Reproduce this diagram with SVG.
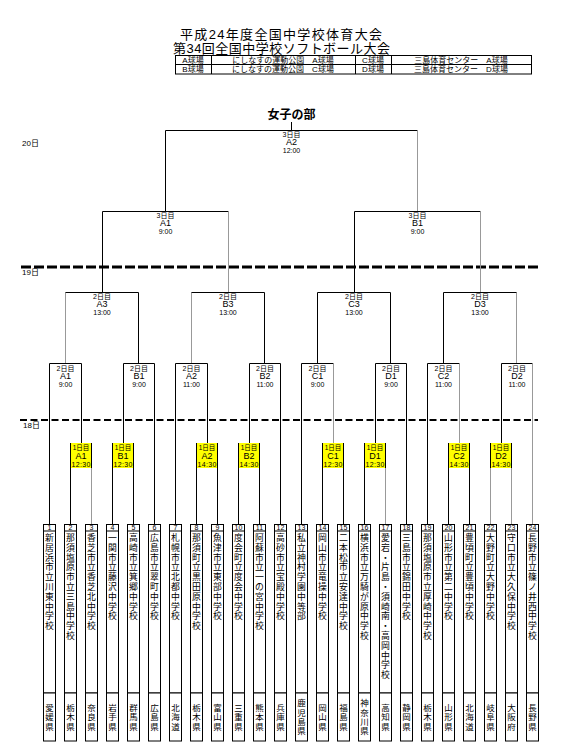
<svg xmlns="http://www.w3.org/2000/svg" width="570" height="755" viewBox="0 0 570 755">
<style>
text{font-family:"Liberation Sans","Noto Sans CJK JP",sans-serif;fill:#000}
.c{text-anchor:middle}
.ln{stroke:#000;stroke-width:1;fill:none}
.lg{stroke:#999;stroke-width:1;fill:none}
.bx{fill:#fff;stroke:#000;stroke-width:1}
.yb{fill:#ffff00;stroke:none}
.s6{font-size:6.5px}
.s7{font-size:7px}
.s8{font-size:8px}
.s9{font-size:9px}
.nm{font-size:8.8px;text-anchor:middle}
.pf{font-size:8.5px;text-anchor:middle}
</style>
<rect width="570" height="755" fill="#fff"/>

<g id="header">
<text x="281" y="38.5" class="c" style="font-size:13px" textLength="202">平成24年度全国中学校体育大会</text>
<text x="281.5" y="52.5" class="c" style="font-size:13px" textLength="217">第34回全国中学校ソフトボール大会</text>
<rect x="175.5" y="55.5" width="356" height="18.5" fill="none" stroke="#000" stroke-width="1"/>
<path class="ln" d="M175.5 64.5H531.5M211.5 55.5V74M355.5 55.5V74M391.5 55.5V74"/>
<text x="193" y="62.5" class="c s8">A球場</text>
<text x="283" y="62.5" class="c s8">にしなすの運動公園　A球場</text>
<text x="373" y="62.5" class="c s8">C球場</text>
<text x="461" y="62.5" class="c s8">三島体育センター　A球場</text>
<text x="193" y="72" class="c s8">B球場</text>
<text x="283" y="72" class="c s8">にしなすの運動公園　C球場</text>
<text x="373" y="72" class="c s8">D球場</text>
<text x="461" y="72" class="c s8">三島体育センター　D球場</text>
</g>

<g id="dates">
<text x="22" y="146" class="s8">20日</text>
<text x="22" y="275" class="s8">19日</text>
<text x="23" y="427.5" class="s8">18日</text>
<line x1="21" y1="267" x2="541" y2="267" stroke="#000" stroke-width="3" stroke-dasharray="10 3"/>
<line x1="20" y1="420" x2="538" y2="420" stroke="#000" stroke-width="2" stroke-dasharray="7 3.5"/>
</g>

<g id="connectors">
<path class="ln" d="M291.5 122V130.5M165.5 211.5V130.5H417.5"/>
<path class="lg" d="M417.5 130.5V211.5"/>
<path class="ln" d="M102.5 292.5V211.5H228.5M354.5 292.5V211.5H480.5"/>
<path class="lg" d="M228.5 211.5V292.5M480.5 211.5V292.5"/>
<path class="lg" d="M65.5 363.5V292.5M191.5 363.5V292.5M516.5 292.5V363.5"/>
<path class="ln" d="M65.5 292.5H138.5V363.5M191.5 292.5H264.5V363.5M317.5 363.5V292.5H390.5V363.5M443.5 363.5V292.5H516.5"/>
<path class="ln" d="M49.5 524.5V363.5H81.5V443M123.5 443V363.5H154.5V524.5M175.5 524.5V363.5H207.5V443M249.5 443V363.5H280.5V524.5M301.5 524.5V363.5H333.5M375.5 443V363.5H406.5V524.5M427.5 524.5V363.5H459.5M501.5 443V363.5H532.5"/>
<path class="lg" d="M333.5 363.5V443M459.5 363.5V443M532.5 363.5V524.5"/>
<path class="ln" d="M70.5 443V524.5M112.5 443V524.5M133.5 443V524.5M196.5 443V524.5M217.5 443V524.5M238.5 443V524.5M259.5 443V524.5M322.5 443V524.5M343.5 443V524.5M364.5 443V524.5M448.5 443V524.5M469.5 443V524.5"/>
<path class="lg" d="M91.5 468V524.5M385.5 468V524.5M490.5 468V524.5M511.5 468V524.5"/>
<path class="ln" d="M91.5 443V468M385.5 443V468M490.5 443V468M511.5 443V468"/>
</g>

<g id="final">
<text x="291.5" y="119" class="c" style="font-size:12px;font-weight:bold">女子の部</text>
<text x="291.5" y="137.3" class="c s7">3日目</text>
<text x="291.5" y="145.3" class="c s9">A2</text>
<text x="291.5" y="153.2" class="c s7">12:00</text>
</g>
<g id="r3-A1"><text x="165.5" y="218" class="c s7">3日目</text><text x="165.5" y="226" class="c s9">A1</text><text x="165.5" y="233.5" class="c s7">9:00</text></g>
<g id="r3-B1"><text x="417.5" y="218" class="c s7">3日目</text><text x="417.5" y="226" class="c s9">B1</text><text x="417.5" y="233.5" class="c s7">9:00</text></g>

<g id="r2-A3"><text x="102" y="298.5" class="c s7">2日目</text><text x="102" y="306.7" class="c s9">A3</text><text x="102" y="315" class="c s7">13:00</text></g>
<g id="r2-B3"><text x="228" y="298.5" class="c s7">2日目</text><text x="228" y="306.7" class="c s9">B3</text><text x="228" y="315" class="c s7">13:00</text></g>
<g id="r2-C3"><text x="354" y="298.5" class="c s7">2日目</text><text x="354" y="306.7" class="c s9">C3</text><text x="354" y="315" class="c s7">13:00</text></g>
<g id="r2-D3"><text x="480" y="298.5" class="c s7">2日目</text><text x="480" y="306.7" class="c s9">D3</text><text x="480" y="315" class="c s7">13:00</text></g>

<g id="r2-A1"><text x="65.5" y="370.5" class="c s7">2日目</text><text x="65.5" y="379.3" class="c s9">A1</text><text x="65.5" y="386.7" class="c s7">9:00</text></g>
<g id="r2-B1"><text x="139" y="370.5" class="c s7">2日目</text><text x="139" y="379.3" class="c s9">B1</text><text x="139" y="386.7" class="c s7">9:00</text></g>
<g id="r2-A2"><text x="191.5" y="370.5" class="c s7">2日目</text><text x="191.5" y="379.3" class="c s9">A2</text><text x="191.5" y="386.7" class="c s7">11:00</text></g>
<g id="r2-B2"><text x="265" y="370.5" class="c s7">2日目</text><text x="265" y="379.3" class="c s9">B2</text><text x="265" y="386.7" class="c s7">11:00</text></g>
<g id="r2-C1"><text x="317.5" y="370.5" class="c s7">2日目</text><text x="317.5" y="379.3" class="c s9">C1</text><text x="317.5" y="386.7" class="c s7">9:00</text></g>
<g id="r2-D1"><text x="391" y="370.5" class="c s7">2日目</text><text x="391" y="379.3" class="c s9">D1</text><text x="391" y="386.7" class="c s7">9:00</text></g>
<g id="r2-C2"><text x="443.5" y="370.5" class="c s7">2日目</text><text x="443.5" y="379.3" class="c s9">C2</text><text x="443.5" y="386.7" class="c s7">11:00</text></g>
<g id="r2-D2"><text x="517" y="370.5" class="c s7">2日目</text><text x="517" y="379.3" class="c s9">D2</text><text x="517" y="386.7" class="c s7">11:00</text></g>

<g id="r1-A1"><rect class="yb" x="71" y="443" width="20" height="25"/><text x="81" y="450" class="c s6">1日目</text><text x="81" y="458.7" class="c s9">A1</text><text x="81" y="466.5" class="c s7" textLength="19">12:30</text></g>
<g id="r1-B1"><rect class="yb" x="113" y="443" width="20" height="25"/><text x="123" y="450" class="c s6">1日目</text><text x="123" y="458.7" class="c s9">B1</text><text x="123" y="466.5" class="c s7" textLength="19">12:30</text></g>
<g id="r1-A2"><rect class="yb" x="197" y="443" width="20" height="25"/><text x="207" y="450" class="c s6">1日目</text><text x="207" y="458.7" class="c s9">A2</text><text x="207" y="466.5" class="c s7" textLength="19">14:30</text></g>
<g id="r1-B2"><rect class="yb" x="239" y="443" width="20" height="25"/><text x="249" y="450" class="c s6">1日目</text><text x="249" y="458.7" class="c s9">B2</text><text x="249" y="466.5" class="c s7" textLength="19">14:30</text></g>
<g id="r1-C1"><rect class="yb" x="323" y="443" width="20" height="25"/><text x="333" y="450" class="c s6">1日目</text><text x="333" y="458.7" class="c s9">C1</text><text x="333" y="466.5" class="c s7" textLength="19">12:30</text></g>
<g id="r1-D1"><rect class="yb" x="365" y="443" width="20" height="25"/><text x="375" y="450" class="c s6">1日目</text><text x="375" y="458.7" class="c s9">D1</text><text x="375" y="466.5" class="c s7" textLength="19">12:30</text></g>
<g id="r1-C2"><rect class="yb" x="449" y="443" width="20" height="25"/><text x="459" y="450" class="c s6">1日目</text><text x="459" y="458.7" class="c s9">C2</text><text x="459" y="466.5" class="c s7" textLength="19">14:30</text></g>
<g id="r1-D2"><rect class="yb" x="491" y="443" width="20" height="25"/><text x="501" y="450" class="c s6">1日目</text><text x="501" y="458.7" class="c s9">D2</text><text x="501" y="466.5" class="c s7" textLength="19">14:30</text></g>

<g id="team-1"><rect class="bx" x="43.5" y="524.5" width="12" height="168.5"/><line class="ln" x1="43.5" y1="531" x2="55.5" y2="531"/><text x="49.5" y="530.3" class="c s7">1</text>
<text class="nm" x="49.5 49.5 49.5 49.5 49.5 49.5 49.5 49.5 49.5 49.5" y="541 550.8 560.6 570.4 580.2 590 599.8 609.6 619.4 629.2">新居浜市立川東中学校</text>
<rect class="bx" x="43.5" y="693" width="12" height="48"/><text class="pf" x="49.5 49.5 49.5" y="710.9 720.2 729.5">愛媛県</text></g>

<g id="team-2"><rect class="bx" x="64.5" y="524.5" width="12" height="168.5"/><line class="ln" x1="64.5" y1="531" x2="76.5" y2="531"/><text x="70.5" y="530.3" class="c s7">2</text>
<text class="nm" x="70.5 70.5 70.5 70.5 70.5 70.5 70.5 70.5 70.5 70.5 70.5" y="541 550.8 560.6 570.4 580.2 590 599.8 609.6 619.4 629.2 639">那須塩原市立三島中学校</text>
<rect class="bx" x="64.5" y="693" width="12" height="48"/><text class="pf" x="70.5 70.5 70.5" y="710.9 720.2 729.5">栃木県</text></g>

<g id="team-3"><rect class="bx" x="85.5" y="524.5" width="12" height="168.5"/><line class="ln" x1="85.5" y1="531" x2="97.5" y2="531"/><text x="91.5" y="530.3" class="c s7">3</text>
<text class="nm" x="91.5 91.5 91.5 91.5 91.5 91.5 91.5 91.5 91.5 91.5" y="541 550.8 560.6 570.4 580.2 590 599.8 609.6 619.4 629.2">香芝市立香芝北中学校</text>
<rect class="bx" x="85.5" y="693" width="12" height="48"/><text class="pf" x="91.5 91.5 91.5" y="710.9 720.2 729.5">奈良県</text></g>

<g id="team-4"><rect class="bx" x="106.5" y="524.5" width="12" height="168.5"/><line class="ln" x1="106.5" y1="531" x2="118.5" y2="531"/><text x="112.5" y="530.3" class="c s7">4</text>
<text class="nm" x="112.5 112.5 112.5 112.5 112.5 112.5 112.5 112.5 112.5" y="541 550.8 560.6 570.4 580.2 590 599.8 609.6 619.4">一関市立藤沢中学校</text>
<rect class="bx" x="106.5" y="693" width="12" height="48"/><text class="pf" x="112.5 112.5 112.5" y="710.9 720.2 729.5">岩手県</text></g>

<g id="team-5"><rect class="bx" x="127.5" y="524.5" width="12" height="168.5"/><line class="ln" x1="127.5" y1="531" x2="139.5" y2="531"/><text x="133.5" y="530.3" class="c s7">5</text>
<text class="nm" x="133.5 133.5 133.5 133.5 133.5 133.5 133.5 133.5 133.5" y="541 550.8 560.6 570.4 580.2 590 599.8 609.6 619.4">高崎市立箕郷中学校</text>
<rect class="bx" x="127.5" y="693" width="12" height="48"/><text class="pf" x="133.5 133.5 133.5" y="710.9 720.2 729.5">群馬県</text></g>

<g id="team-6"><rect class="bx" x="148.5" y="524.5" width="12" height="168.5"/><line class="ln" x1="148.5" y1="531" x2="160.5" y2="531"/><text x="154.5" y="530.3" class="c s7">6</text>
<text class="nm" x="154.5 154.5 154.5 154.5 154.5 154.5 154.5 154.5 154.5" y="541 550.8 560.6 570.4 580.2 590 599.8 609.6 619.4">広島市立翠町中学校</text>
<rect class="bx" x="148.5" y="693" width="12" height="48"/><text class="pf" x="154.5 154.5 154.5" y="710.9 720.2 729.5">広島県</text></g>

<g id="team-7"><rect class="bx" x="169.5" y="524.5" width="12" height="168.5"/><line class="ln" x1="169.5" y1="531" x2="181.5" y2="531"/><text x="175.5" y="530.3" class="c s7">7</text>
<text class="nm" x="175.5 175.5 175.5 175.5 175.5 175.5 175.5 175.5 175.5" y="541 550.8 560.6 570.4 580.2 590 599.8 609.6 619.4">札幌市立北都中学校</text>
<rect class="bx" x="169.5" y="693" width="12" height="48"/><text class="pf" x="175.5 175.5 175.5" y="710.9 720.2 729.5">北海道</text></g>

<g id="team-8"><rect class="bx" x="190.5" y="524.5" width="12" height="168.5"/><line class="ln" x1="190.5" y1="531" x2="202.5" y2="531"/><text x="196.5" y="530.3" class="c s7">8</text>
<text class="nm" x="196.5 196.5 196.5 196.5 196.5 196.5 196.5 196.5 196.5 196.5" y="541 550.8 560.6 570.4 580.2 590 599.8 609.6 619.4 629.2">那須町立黒田原中学校</text>
<rect class="bx" x="190.5" y="693" width="12" height="48"/><text class="pf" x="196.5 196.5 196.5" y="710.9 720.2 729.5">栃木県</text></g>

<g id="team-9"><rect class="bx" x="211.5" y="524.5" width="12" height="168.5"/><line class="ln" x1="211.5" y1="531" x2="223.5" y2="531"/><text x="217.5" y="530.3" class="c s7">9</text>
<text class="nm" x="217.5 217.5 217.5 217.5 217.5 217.5 217.5 217.5 217.5" y="541 550.8 560.6 570.4 580.2 590 599.8 609.6 619.4">魚津市立東部中学校</text>
<rect class="bx" x="211.5" y="693" width="12" height="48"/><text class="pf" x="217.5 217.5 217.5" y="710.9 720.2 729.5">富山県</text></g>

<g id="team-10"><rect class="bx" x="232.5" y="524.5" width="12" height="168.5"/><line class="ln" x1="232.5" y1="531" x2="244.5" y2="531"/><text x="238.5" y="530.3" class="c s7">10</text>
<text class="nm" x="238.5 238.5 238.5 238.5 238.5 238.5 238.5 238.5 238.5" y="541 550.8 560.6 570.4 580.2 590 599.8 609.6 619.4">度会町立度会中学校</text>
<rect class="bx" x="232.5" y="693" width="12" height="48"/><text class="pf" x="238.5 238.5 238.5" y="710.9 720.2 729.5">三重県</text></g>

<g id="team-11"><rect class="bx" x="253.5" y="524.5" width="12" height="168.5"/><line class="ln" x1="253.5" y1="531" x2="265.5" y2="531"/><text x="259.5" y="530.3" class="c s7">11</text>
<text class="nm" x="259.5 259.5 259.5 259.5 259.5 259.5 259.5 259.5 259.5 259.5" y="541 550.8 560.6 570.4 580.2 590 599.8 609.6 619.4 629.2">阿蘇市立一の宮中学校</text>
<rect class="bx" x="253.5" y="693" width="12" height="48"/><text class="pf" x="259.5 259.5 259.5" y="710.9 720.2 729.5">熊本県</text></g>

<g id="team-12"><rect class="bx" x="274.5" y="524.5" width="12" height="168.5"/><line class="ln" x1="274.5" y1="531" x2="286.5" y2="531"/><text x="280.5" y="530.3" class="c s7">12</text>
<text class="nm" x="280.5 280.5 280.5 280.5 280.5 280.5 280.5 280.5 280.5" y="541 550.8 560.6 570.4 580.2 590 599.8 609.6 619.4">高砂市立宝殿中学校</text>
<rect class="bx" x="274.5" y="693" width="12" height="48"/><text class="pf" x="280.5 280.5 280.5" y="710.9 720.2 729.5">兵庫県</text></g>

<g id="team-13"><rect class="bx" x="295.5" y="524.5" width="12" height="168.5"/><line class="ln" x1="295.5" y1="531" x2="307.5" y2="531"/><text x="301.5" y="530.3" class="c s7">13</text>
<text class="nm" x="301.5 301.5 301.5 301.5 301.5 301.5 301.5 301.5 301.5" y="541 550.8 560.6 570.4 580.2 590 599.8 609.6 619.4">私立神村学園中等部</text>
<rect class="bx" x="295.5" y="693" width="12" height="48"/><text class="pf" x="301.5 301.5 301.5 301.5" y="706.3 715.6 724.9 734.2">鹿児島県</text></g>

<g id="team-14"><rect class="bx" x="316.5" y="524.5" width="12" height="168.5"/><line class="ln" x1="316.5" y1="531" x2="328.5" y2="531"/><text x="322.5" y="530.3" class="c s7">14</text>
<text class="nm" x="322.5 322.5 322.5 322.5 322.5 322.5 322.5 322.5 322.5" y="541 550.8 560.6 570.4 580.2 590 599.8 609.6 619.4">岡山市立竜操中学校</text>
<rect class="bx" x="316.5" y="693" width="12" height="48"/><text class="pf" x="322.5 322.5 322.5" y="710.9 720.2 729.5">岡山県</text></g>

<g id="team-15"><rect class="bx" x="337.5" y="524.5" width="12" height="168.5"/><line class="ln" x1="337.5" y1="531" x2="349.5" y2="531"/><text x="343.5" y="530.3" class="c s7">15</text>
<text class="nm" x="343.5 343.5 343.5 343.5 343.5 343.5 343.5 343.5 343.5 343.5" y="541 550.8 560.6 570.4 580.2 590 599.8 609.6 619.4 629.2">二本松市立安達中学校</text>
<rect class="bx" x="337.5" y="693" width="12" height="48"/><text class="pf" x="343.5 343.5 343.5" y="710.9 720.2 729.5">福島県</text></g>

<g id="team-16"><rect class="bx" x="358.5" y="524.5" width="12" height="168.5"/><line class="ln" x1="358.5" y1="531" x2="370.5" y2="531"/><text x="364.5" y="530.3" class="c s7">16</text>
<text class="nm" x="364.5 364.5 364.5 364.5 364.5 364.5 364.5 364.5 364.5 364.5 364.5" y="541 550.8 560.6 570.4 580.2 590 599.8 609.6 619.4 629.2 639">横浜市立万騎が原中学校</text>
<rect class="bx" x="358.5" y="693" width="12" height="48"/><text class="pf" x="364.5 364.5 364.5 364.5" y="706.3 715.6 724.9 734.2">神奈川県</text></g>

<g id="team-17"><rect class="bx" x="379.5" y="524.5" width="12" height="168.5"/><line class="ln" x1="379.5" y1="531" x2="391.5" y2="531"/><text x="385.5" y="530.3" class="c s7">17</text>
<text class="nm" x="385.5 385.5 385.5 385.5 385.5 385.5 385.5 385.5 385.5 385.5 385.5 385.5 385.5 385.5 385.5" y="541 550.8 560.6 570.4 580.2 590 599.8 609.6 619.4 629.2 639 648.8 658.6 668.4 678.2">愛宕・片島・須崎南・高岡中学校</text>
<rect class="bx" x="379.5" y="693" width="12" height="48"/><text class="pf" x="385.5 385.5 385.5" y="710.9 720.2 729.5">高知県</text></g>

<g id="team-18"><rect class="bx" x="400.5" y="524.5" width="12" height="168.5"/><line class="ln" x1="400.5" y1="531" x2="412.5" y2="531"/><text x="406.5" y="530.3" class="c s7">18</text>
<text class="nm" x="406.5 406.5 406.5 406.5 406.5 406.5 406.5 406.5 406.5" y="541 550.8 560.6 570.4 580.2 590 599.8 609.6 619.4">三島市立錦田中学校</text>
<rect class="bx" x="400.5" y="693" width="12" height="48"/><text class="pf" x="406.5 406.5 406.5" y="710.9 720.2 729.5">静岡県</text></g>

<g id="team-19"><rect class="bx" x="421.5" y="524.5" width="12" height="168.5"/><line class="ln" x1="421.5" y1="531" x2="433.5" y2="531"/><text x="427.5" y="530.3" class="c s7">19</text>
<text class="nm" x="427.5 427.5 427.5 427.5 427.5 427.5 427.5 427.5 427.5 427.5 427.5" y="541 550.8 560.6 570.4 580.2 590 599.8 609.6 619.4 629.2 639">那須塩原市立厚崎中学校</text>
<rect class="bx" x="421.5" y="693" width="12" height="48"/><text class="pf" x="427.5 427.5 427.5" y="710.9 720.2 729.5">栃木県</text></g>

<g id="team-20"><rect class="bx" x="442.5" y="524.5" width="12" height="168.5"/><line class="ln" x1="442.5" y1="531" x2="454.5" y2="531"/><text x="448.5" y="530.3" class="c s7">20</text>
<text class="nm" x="448.5 448.5 448.5 448.5 448.5 448.5 448.5 448.5 448.5" y="541 550.8 560.6 570.4 580.2 590 599.8 609.6 619.4">山形市立第二中学校</text>
<rect class="bx" x="442.5" y="693" width="12" height="48"/><text class="pf" x="448.5 448.5 448.5" y="710.9 720.2 729.5">山形県</text></g>

<g id="team-21"><rect class="bx" x="463.5" y="524.5" width="12" height="168.5"/><line class="ln" x1="463.5" y1="531" x2="475.5" y2="531"/><text x="469.5" y="530.3" class="c s7">21</text>
<text class="nm" x="469.5 469.5 469.5 469.5 469.5 469.5 469.5 469.5 469.5" y="541 550.8 560.6 570.4 580.2 590 599.8 609.6 619.4">豊頃町立豊頃中学校</text>
<rect class="bx" x="463.5" y="693" width="12" height="48"/><text class="pf" x="469.5 469.5 469.5" y="710.9 720.2 729.5">北海道</text></g>

<g id="team-22"><rect class="bx" x="484.5" y="524.5" width="12" height="168.5"/><line class="ln" x1="484.5" y1="531" x2="496.5" y2="531"/><text x="490.5" y="530.3" class="c s7">22</text>
<text class="nm" x="490.5 490.5 490.5 490.5 490.5 490.5 490.5 490.5 490.5" y="541 550.8 560.6 570.4 580.2 590 599.8 609.6 619.4">大野町立大野中学校</text>
<rect class="bx" x="484.5" y="693" width="12" height="48"/><text class="pf" x="490.5 490.5 490.5" y="710.9 720.2 729.5">岐阜県</text></g>

<g id="team-23"><rect class="bx" x="505.5" y="524.5" width="12" height="168.5"/><line class="ln" x1="505.5" y1="531" x2="517.5" y2="531"/><text x="511.5" y="530.3" class="c s7">23</text>
<text class="nm" x="511.5 511.5 511.5 511.5 511.5 511.5 511.5 511.5 511.5 511.5" y="541 550.8 560.6 570.4 580.2 590 599.8 609.6 619.4 629.2">守口市立大久保中学校</text>
<rect class="bx" x="505.5" y="693" width="12" height="48"/><text class="pf" x="511.5 511.5 511.5" y="710.9 720.2 729.5">大阪府</text></g>

<g id="team-24"><rect class="bx" x="526.5" y="524.5" width="12" height="168.5"/><line class="ln" x1="526.5" y1="531" x2="538.5" y2="531"/><text x="532.5" y="530.3" class="c s7">24</text>
<text class="nm" x="532.5 532.5 532.5 532.5 532.5 532.5 532.5 532.5 532.5 532.5 532.5" y="541 550.8 560.6 570.4 580.2 590 599.8 609.6 619.4 629.2 639">長野市立篠ノ井西中学校</text>
<rect class="bx" x="526.5" y="693" width="12" height="48"/><text class="pf" x="532.5 532.5 532.5" y="710.9 720.2 729.5">長野県</text></g>
</svg>
